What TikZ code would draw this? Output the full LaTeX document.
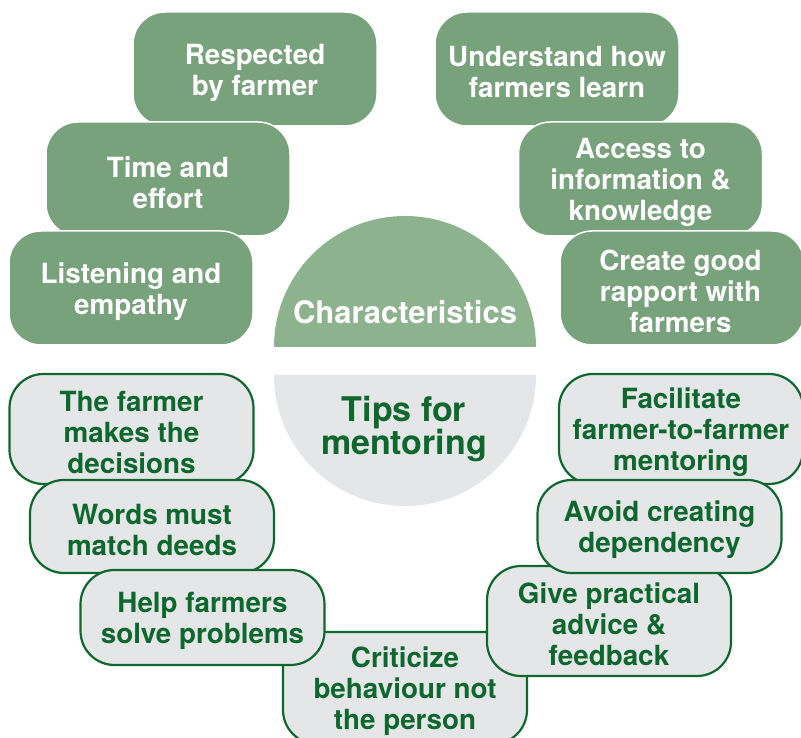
\documentclass[tikz,border=0pt]{standalone}
\usepackage{fontspec}
\setmainfont{TeX Gyre Heros}
\definecolor{boxgreen}{RGB}{120,162,123}
\definecolor{semigreen}{RGB}{141,178,142}
\definecolor{tipgray}{RGB}{229,230,231}
\definecolor{darkgreen}{RGB}{14,104,45}
\tikzset{
  charbox/.style={draw=white, line width=1.5pt, fill=boxgreen, rounded corners=32pt,
    minimum width=244pt, minimum height=114pt, inner sep=0pt},
  chartext/.style={align=center, text=white,
    font=\bfseries\fontsize{27.8}{31}\selectfont, inner sep=0pt},
  tipbox/.style={draw=darkgreen, line width=2.2pt, fill=tipgray, rounded corners=34pt,
    minimum width=244pt, inner sep=0pt},
  tiptext/.style={align=center, text=darkgreen,
    font=\bfseries\fontsize{27.8}{31}\selectfont, inner sep=0pt},
  centertext/.style={align=center, inner sep=0pt}
}
\begin{document}
\begin{tikzpicture}[x=1pt,y=1pt]
\useasboundingbox (0,0) rectangle (801,738);
\clip (0,0) rectangle (801,738);
% characteristics boxes
\node[charbox] (resp) at (255,669) {};
\node[chartext] (resp-t) at ([yshift=-3.5pt]resp.center) {Respected\\by farmer};
\node[charbox] (time) at (168,559) {};
\node[chartext] (time-t) at ([yshift=-3.5pt]time.center) {Time and\\effort};
\node[charbox] (list) at (131,450) {};
\node[chartext] (list-t) at ([yshift=-3.5pt]list.center) {Listening and\\empathy};
\node[charbox] (unde) at (557,669) {};
\node[chartext] (unde-t) at ([yshift=-3.5pt]unde.center) {Understand how\\farmers learn};
\node[charbox] (acce) at (640.5,559) {};
\node[chartext] (acce-t) at ([yshift=-3pt]acce.center) {Access to\\information \&\\knowledge};
\node[charbox] (crea) at (682,450) {};
\node[chartext] (crea-t) at ([xshift=-1.5pt,yshift=-3pt]crea.center) {Create good\\rapport with\\farmers};
% semicircles
\fill[semigreen] (274,391) arc[start angle=180, end angle=0, radius=131] -- cycle;
\node[centertext, text=white, font=\bfseries\fontsize{31}{34}\selectfont] (char) at (405,426) {Characteristics};
\fill[tipgray] (274,363) arc[start angle=180, end angle=360, radius=131] -- cycle;
\node[centertext, text=darkgreen, font=\bfseries\fontsize{34}{33}\selectfont] (tips) at (404,309) {Tips for\\mentoring};
% tips boxes
\node[tipbox, minimum height=112pt] (crit) at (405,50) {};
\node[tiptext] (crit-t) at ([yshift=-3pt]crit.center) {Criticize\\behaviour not\\the person};
\node[tipbox, minimum height=110pt] (farm) at (131.5,309) {};
\node[tiptext] (farm-t) at ([yshift=-3pt]farm.center) {The farmer\\makes the\\decisions};
\node[tipbox, minimum height=93pt] (word) at (152,211.5) {};
\node[tiptext] (word-t) at ([yshift=-3pt]word.center) {Words must\\match deeds};
\node[tipbox, minimum height=95pt] (help) at (202.5,120.5) {};
\node[tiptext] (help-t) at ([yshift=-3pt]help.center) {Help farmers\\solve problems};
\node[tipbox, minimum height=110pt] (faci) at (681,309) {};
\node[tiptext] (faci-t) at ([yshift=-3pt]faci.center) {Facilitate\\farmer-to-farmer\\mentoring};
\node[tipbox, minimum height=110pt] (give) at (609,117) {};
\node[tiptext] (give-t) at ([yshift=-3pt]give.center) {Give practical\\advice \&\\feedback};
\node[tipbox, minimum height=93pt] (avoi) at (659.5,211.5) {};
\node[tiptext] (avoi-t) at ([yshift=-3pt]avoi.center) {Avoid creating\\dependency};
\end{tikzpicture}
\end{document}
